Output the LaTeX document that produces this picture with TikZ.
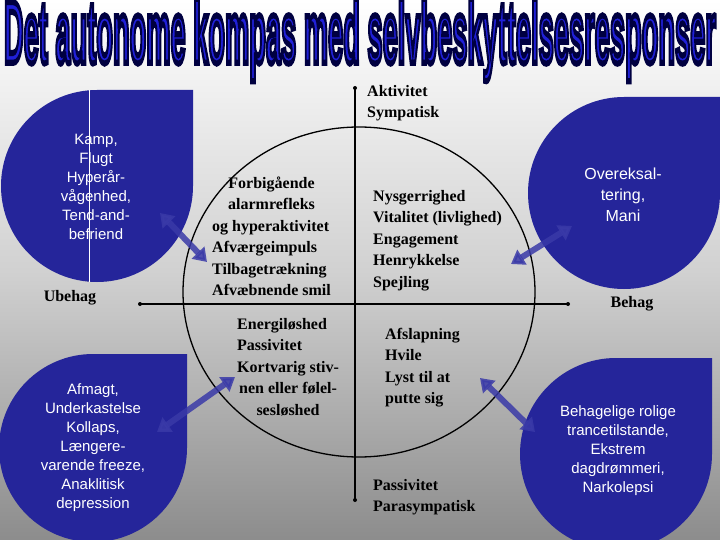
\documentclass[tikz,border=0pt]{standalone}
\usepackage{fontspec}
\setmainfont{Liberation Serif}
\newfontfamily\arialf{Liberation Sans}
\usetikzlibrary{arrows.meta}
\definecolor{drop}{HTML}{25259A}
\definecolor{arr}{HTML}{3A3AA8}
\definecolor{ttl}{HTML}{2020D8}
\begin{document}
\begin{tikzpicture}[x=1pt,y=-1pt,
  wtxt/.style={text=white,font=\arialf\fontsize{15}{19}\selectfont,align=center,inner sep=0},
  btxt/.style={text=black,font=\bfseries\fontsize{16}{21.5}\selectfont,align=left,inner sep=0,anchor=north west},
  dropfill/.style={fill=drop},
  bigarrow/.style={draw=arr,line width=6pt,{Triangle[width=17pt,length=13pt]}-{Triangle[width=17pt,length=13pt]}}]
\useasboundingbox (0,0) rectangle (720,540);
\shade[top color=white,bottom color=black!45,middle color=black!18] (0,0) rectangle (720,540);
\clip (0,0) rectangle (720,540);
% title
\node[inner sep=0,text=ttl] (title) at (360,40) {\resizebox{712pt}{64pt}{\arialf\bfseries\special{pdf:literal direct 0 0 0.25 RG 0.7 w 2 Tr}Det autonome kompas med selvbeskyttelsesresponser\special{pdf:literal direct 0 Tr}}};
% drops
\path[dropfill] (193,186) -- (193,90) -- (97,90) arc[start angle=270,end angle=0,radius=96] -- cycle;
\draw[white,line width=1pt] (89,90) -- (89,282);
\path[dropfill] (187,448) -- (187,354) -- (93,354) arc[start angle=270,end angle=0,radius=94] -- cycle;
\path[dropfill] (720,193) -- (720,97) -- (624,97) arc[start angle=270,end angle=0,radius=96] -- cycle;
\path[dropfill] (712,454) -- (712,358) -- (616,358) arc[start angle=270,end angle=0,radius=96] -- cycle;
% axes and circle
\coordinate (vt) at (355,88); \coordinate (vb) at (355,500);
\coordinate (hl) at (140,304); \coordinate (hr) at (568,304);
\draw[line width=1.3pt] (359,292) ellipse [x radius=176,y radius=165];
\draw[line width=1.1pt] (vt) -- (vb);
\draw[line width=1.1pt] (hl) -- (hr);
\foreach \p in {vt,vb,hl,hr} \fill (\p) circle (2pt);
% white texts
\node[wtxt] (tl) at (96,187) {Kamp,\\Flugt\\Hyperår-\\vågenhed,\\Tend-and-\\befriend};
\node[wtxt] (bl) at (93,448) {Afmagt,\\Underkastelse\\Kollaps,\\Længere-\\varende freeze,\\Anaklitisk\\depression};
\node[wtxt,font=\arialf\fontsize{16}{21}\selectfont] (tr) at (623,195) {Overeksal-\\tering,\\Mani};
\node[wtxt] (br) at (618,451) {Behagelige rolige\\trancetilstande,\\Ekstrem\\dagdrømmeri,\\Narkolepsi};
% black texts
\node[btxt] (q1) at (212,173) {\begin{tabular}{@{}l@{}}\multicolumn{1}{@{}c@{}}{Forbigående}\\\multicolumn{1}{@{}c@{}}{alarmrefleks}\\og hyperaktivitet\\Afværgeimpuls\\Tilbagetrækning\\Afvæbnende smil\end{tabular}};
\node[btxt] (q2) at (373,190) {Nysgerrighed\\Vitalitet (livlighed)\\Engagement\\Henrykkelse\\Spejling};
\node[btxt] (q3) at (237,314) {\begin{tabular}{@{}l@{}}Energiløshed\\Passivitet\\Kortvarig stiv-\\\multicolumn{1}{@{}c@{}}{nen eller følel-}\\\multicolumn{1}{@{}c@{}}{sesløshed}\end{tabular}};
\node[btxt] (q4) at (385,328) {Afslapning\\Hvile\\Lyst til at\\putte sig};
\node[btxt] (akt) at (367,85) {Aktivitet\\Sympatisk};
\node[btxt] (pas) at (373,479) {Passivitet\\Parasympatisk};
\node[btxt,anchor=center] (ube) at (70,298) {Ubehag};
\node[btxt,anchor=center] (beh) at (632,304) {Behag};
% arrows
\coordinate (a1s) at (160,213); \coordinate (a1e) at (207,262);
\coordinate (a2s) at (157,432); \coordinate (a2e) at (235,377);
\coordinate (a3s) at (511,264); \coordinate (a3e) at (572,226);
\coordinate (a4s) at (480,378); \coordinate (a4e) at (535,432);
\foreach \s/\e in {a1s/a1e,a2s/a2e,a3s/a3e,a4s/a4e}
  \draw[bigarrow,opacity=0.85] (\s) -- (\e);
\end{tikzpicture}
\end{document}
